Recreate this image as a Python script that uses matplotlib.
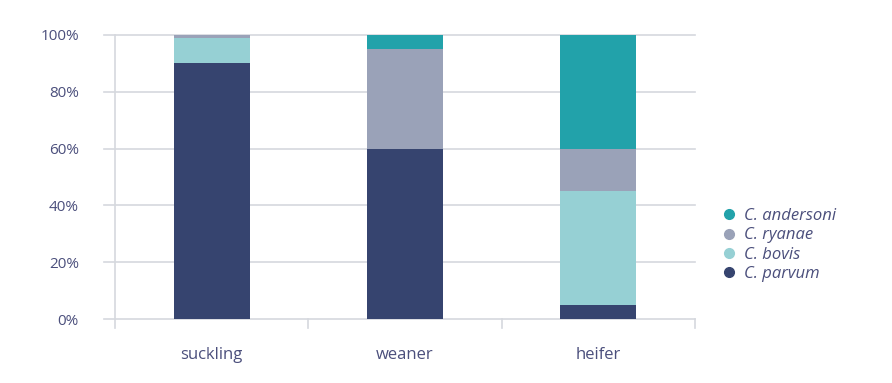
import matplotlib
matplotlib.use("Agg")
import matplotlib.pyplot as plt
from matplotlib.lines import Line2D

categories = ["suckling", "weaner", "heifer"]
series_names = ["C. parvum", "C. bovis", "C. ryanae", "C. andersoni"]
parvum = [90, 60, 5]
bovis = [9, 0, 40]
ryanae = [1, 35, 15]
andersoni = [0, 5, 40]
yticks = [0, 20, 40, 60, 80, 100]
ytick_labels = ["0%", "20%", "40%", "60%", "80%", "100%"]

colors = ["#36446F", "#96D0D4", "#9AA2B8", "#22A2AA"]
text_color = "#4B4F7C"
grid_color = "#D5D8DE"

plt.rcParams['font.family'] = ['Open Sans', 'DejaVu Sans']

fig = plt.figure(figsize=(8.92, 3.83), dpi=100)
ax = fig.add_axes([0.129, 0.167, 0.650, 0.742])

x = list(range(len(categories)))
bottom = [0, 0, 0]
for vals, col, name in zip([parvum, bovis, ryanae, andersoni], colors, series_names):
    ax.bar(x, vals, width=0.395, bottom=bottom, color=col, label=name, zorder=3)
    bottom = [b + v for b, v in zip(bottom, vals)]

ax.set_xlim(-0.5, 2.5)
ax.set_ylim(0, 100)
for s in ax.spines.values():
    s.set_visible(False)

for yv in yticks:
    ax.plot([-0.555, 2.5], [yv, yv], color=grid_color, lw=1.2, clip_on=False, zorder=1)
ax.plot([-0.5, -0.5], [-3.2, 100], color=grid_color, lw=1.2, clip_on=False, zorder=1)
for xv in [0.5, 1.5, 2.5]:
    ax.plot([xv, xv], [-3.2, 0], color=grid_color, lw=1.2, clip_on=False, zorder=1)

ax.set_yticks(yticks)
ax.set_yticklabels(ytick_labels)
ax.set_xticks(x)
ax.set_xticklabels(categories)
ax.tick_params(axis='y', length=0, pad=26, labelsize=11, labelcolor=text_color)
ax.tick_params(axis='x', length=0, pad=20, labelsize=12, labelcolor=text_color)

handles = [Line2D([0], [0], marker='o', linestyle='none', markersize=7,
                  markerfacecolor=c, markeredgecolor=c) for c in colors]
handles = handles[::-1]
labels = series_names[::-1]
leg = fig.legend(handles, labels, loc='center left', bbox_to_anchor=(0.791, 0.36),
                 frameon=False, fontsize=12, handletextpad=0.4, labelspacing=0.2,
                 handlelength=1.0)
for t in leg.get_texts():
    t.set_color(text_color)
    t.set_fontstyle('italic')

fig.savefig("out.png", dpi=100)
